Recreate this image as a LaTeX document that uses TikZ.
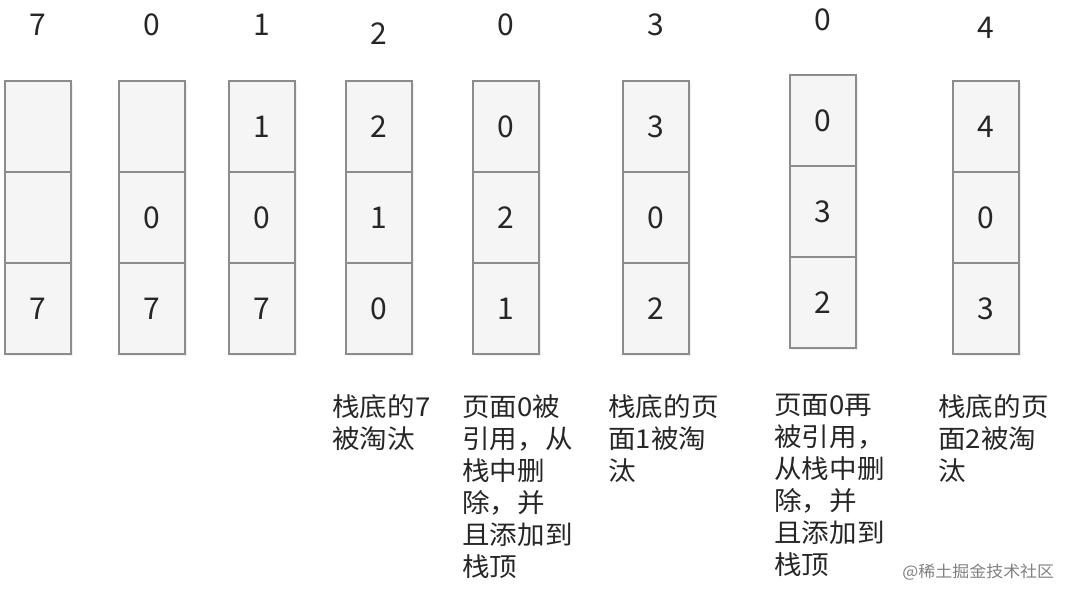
\documentclass[tikz,border=0pt]{standalone}
\usepackage{fontspec}
\setmainfont{Noto Sans CJK SC}
\newfontfamily\cjkwide[FakeStretch=1.06]{Noto Sans CJK SC}
\usetikzlibrary{positioning,shadows}

\tikzset{
    cell/.style={draw=black!45, fill=black!4, line width=0.8pt,
        minimum width=33pt, minimum height=45.5pt, inner sep=0pt, outer sep=0pt,
        drop shadow={shadow xshift=0.8pt, shadow yshift=-0.8pt, opacity=0.12},
        font=\fontsize{15}{18}\selectfont, text=black!85},
    refnum/.style={anchor=base, inner sep=0pt, font=\fontsize{15}{18}\selectfont, text=black!85},
    note/.style={anchor=north west, align=left, inner sep=0pt,
        font=\cjkwide\fontsize{13}{16}\selectfont, text=black!85},
    wmtext/.style={anchor=base west, inner sep=0pt,
        font=\cjkwide\fontsize{8}{10}\selectfont, text=black!50},
}

\begin{document}
\begin{tikzpicture}[x=0.5pt, y=-0.5pt]
    \useasboundingbox (0,0) rectangle (1080,598);

    % reference string and the stack after each reference
    \foreach \i/\x/\ry/\ytop/\r/\a/\b/\c in {
        1/38/36/81/7///7,
        2/152/36/81/0//0/7,
        3/262/36/81/1/1/0/7,
        4/379/45/81/2/2/1/0,
        5/506/36/81/0/0/2/1,
        6/656/36/81/3/3/0/2,
        7/823/31/75/0/0/3/2,
        8/986/39/81/4/4/0/3}
    {
        \node[refnum] (r\i) at (\x,\ry) {\r};
        \node[cell, anchor=north] (s\i-1) at (\x,\ytop) {\a};
        \node[cell, below=0pt of s\i-1] (s\i-2) {\b};
        \node[cell, below=0pt of s\i-2] (s\i-3) {\c};
    }

    % remarks under the stacks
    \node[note] (n4) at (332,394) {栈底的7\\被淘汰};
    \node[note] (n5) at (462,394) {页面0被\\引用，从\\栈中删\\除，并\\且添加到\\栈顶};
    \node[note] (n6) at (608,394) {栈底的页\\面1被淘\\汰};
    \node[note] (n7) at (774,394) {页面0再\\被引用，\\从栈中删\\除，并\\且添加到\\栈顶};
    \node[note] (n8) at (938,394) {栈底的页\\面2被淘\\汰};

    \node[wmtext] (wm) at (902,577) {@稀土掘金技术社区};
\end{tikzpicture}
\end{document}
